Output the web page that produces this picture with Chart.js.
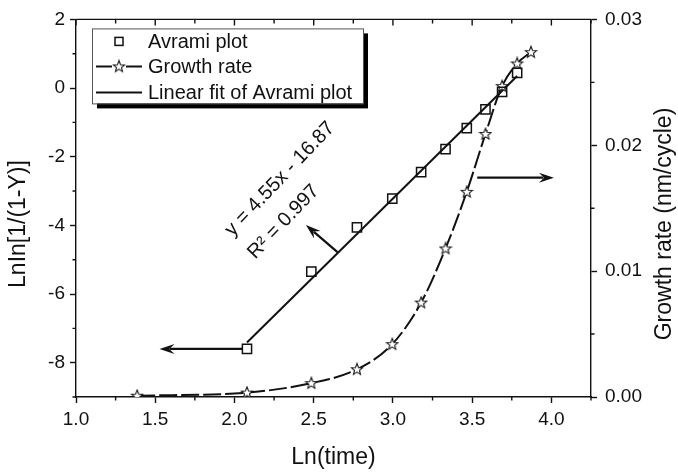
<!DOCTYPE html>
<html>
<head>
<meta charset="utf-8">
<script src="https://cdn.jsdelivr.net/npm/chart.js@4.4.0/dist/chart.umd.min.js"></script>
<style>
    html, body { margin: 0; padding: 0; background: #fff; }
</style>
</head>
<body>
<canvas id="avramiChart" width="678" height="472"></canvas>
<script>
// Avrami plot: LnIn[1/(1-Y)] vs Ln(time)
const avramiX = [2.079, 2.485, 2.773, 2.996, 3.178, 3.332, 3.466, 3.584, 3.689, 3.784];
const avramiY = [-7.60, -5.35, -4.06, -3.22, -2.45, -1.78, -1.17, -0.62, -0.11, 0.44];

// growth rate (nm/cycle) vs Ln(time)
const growthX = [1.386, 2.079, 2.485, 2.773, 2.996, 3.178, 3.332, 3.466, 3.584, 3.689, 3.784, 3.871];
const growthY = [0.0001, 0.00035, 0.0011, 0.0022, 0.0042, 0.0075, 0.0118, 0.0163, 0.0209, 0.0247, 0.0265, 0.0274];

// linear fit end points
const fitX = [2.079, 3.784];
const fitY = [-7.41, 0.35];

const FONT = "'Liberation Sans', Arial, sans-serif";
const INK = '#111';

function isStep(v, step) {
    return Math.abs(v / step - Math.round(v / step)) < 1e-6;
}

function makeStar() {
    const c = document.createElement('canvas');
    c.width = 14; c.height = 14;
    const g = c.getContext('2d');
    g.beginPath();
    for (let i = 0; i < 10; i++) {
        const r = i % 2 === 0 ? 6 : 2.6;
        const a = -Math.PI / 2 + i * Math.PI / 5;
        g.lineTo(7 + r * Math.cos(a), 7.3 + r * Math.sin(a));
    }
    g.closePath();
    g.fillStyle = '#fff';
    g.fill();
    g.strokeStyle = INK;
    g.lineWidth = 1.1;
    g.stroke();
    return c;
}
const starImg = makeStar();

function arrow(ctx, x1, y1, x2, y2) {
    const a = Math.atan2(y2 - y1, x2 - x1);
    const len = 15, hw = 5;
    ctx.beginPath();
    ctx.moveTo(x1, y1);
    ctx.lineTo(x2 - Math.cos(a) * len * 0.7, y2 - Math.sin(a) * len * 0.7);
    ctx.stroke();
    ctx.beginPath();
    ctx.moveTo(x2, y2);
    ctx.lineTo(x2 - Math.cos(a) * len + Math.sin(a) * hw, y2 - Math.sin(a) * len - Math.cos(a) * hw);
    ctx.lineTo(x2 - Math.cos(a) * len * 0.65, y2 - Math.sin(a) * len * 0.65);
    ctx.lineTo(x2 - Math.cos(a) * len - Math.sin(a) * hw, y2 - Math.sin(a) * len + Math.cos(a) * hw);
    ctx.closePath();
    ctx.fill();
}

// arrows and fit text, in data units of x / left y
const arrows = [
    [2.05, -7.60, 1.527, -7.60],
    [2.65, -4.78, 2.451, -3.99],
    [3.532, -2.61, 4.016, -2.61]
];
const fitText = [
    ['y = 4.55x - 16.87', 1.962, -4.225],
    ['R\u00B2 = 0.997', 2.106, -4.888]
];

const extras = {
    id: 'extras',
    afterDraw(chart) {
        const ctx = chart.ctx;
        const { left, right, top, bottom } = chart.chartArea;
        const x = chart.scales.x, y = chart.scales.y, y2 = chart.scales.y2;
        ctx.save();
        ctx.strokeStyle = INK;
        ctx.fillStyle = INK;
        ctx.lineWidth = 1.4;

        // top frame line with inward ticks, plus minor ticks
        ctx.beginPath();
        ctx.moveTo(left, top);
        ctx.lineTo(right, top);
        x.ticks.forEach(t => {
            const px = x.getPixelForValue(t.value);
            const major = isStep(t.value, 0.5);
            ctx.moveTo(px, top);
            ctx.lineTo(px, top + (major ? 6 : 4));
            if (!major) {
                ctx.moveTo(px, bottom);
                ctx.lineTo(px, bottom + 3.5);
            }
        });
        y.ticks.forEach(t => {
            if (!isStep(t.value, 2)) {
                const py = y.getPixelForValue(t.value);
                ctx.moveTo(left, py);
                ctx.lineTo(left - 3.5, py);
            }
        });
        y2.ticks.forEach(t => {
            if (!isStep(t.value, 0.01)) {
                const py = y2.getPixelForValue(t.value);
                ctx.moveTo(right, py);
                ctx.lineTo(right + 3.5, py);
            }
        });
        ctx.stroke();

        // y axis titles, both reading bottom to top
        ctx.font = '23px ' + FONT;
        ctx.textAlign = 'center';
        ctx.textBaseline = 'middle';
        const midY = 224;
        ctx.save();
        ctx.translate(19, midY);
        ctx.rotate(-Math.PI / 2);
        ctx.fillText('LnIn[1/(1-Y)]', 0, 0);
        ctx.restore();
        ctx.save();
        ctx.translate(665, midY);
        ctx.rotate(-Math.PI / 2);
        ctx.fillText('Growth rate (nm/cycle)', 0, 0);
        ctx.restore();

        // arrows
        ctx.lineWidth = 2.2;
        arrows.forEach(a => {
            arrow(ctx, x.getPixelForValue(a[0]), y.getPixelForValue(a[1]),
                x.getPixelForValue(a[2]), y.getPixelForValue(a[3]));
        });

        // fit equation
        ctx.font = '20px ' + FONT;
        ctx.textAlign = 'left';
        fitText.forEach(f => {
            ctx.save();
            ctx.translate(x.getPixelForValue(f[1]), y.getPixelForValue(f[2]));
            ctx.rotate(-0.81);
            ctx.fillText(f[0], 0, 0);
            ctx.restore();
        });

        // legend box with shadow
        const lx = left + 16, ly = top + 9, lw = 271, lh = 75;
        ctx.fillStyle = '#000';
        ctx.fillRect(lx + 5, ly + 5, lw, lh);
        ctx.fillStyle = '#fff';
        ctx.fillRect(lx, ly, lw, lh);
        ctx.lineWidth = 1;
        ctx.strokeStyle = '#555';
        ctx.strokeRect(lx + 0.5, ly + 0.5, lw, lh);

        const ds = chart.data.datasets;
        const rows = [ly + 13, ly + 38, ly + 64];
        const sx = lx + 27;
        ctx.strokeStyle = INK;
        ctx.fillStyle = INK;
        ctx.lineWidth = 2;
        // square
        ctx.save();
        ctx.lineWidth = 1.5;
        ctx.strokeRect(sx - 4, rows[0] - 4, 8, 8);
        ctx.restore();
        // dashed with star
        ctx.beginPath();
        ctx.moveTo(lx + 4, rows[1]); ctx.lineTo(sx - 7, rows[1]);
        ctx.moveTo(sx + 7, rows[1]); ctx.lineTo(lx + 50, rows[1]);
        ctx.stroke();
        ctx.drawImage(starImg, sx - 7, rows[1] - 7);
        // solid
        ctx.beginPath();
        ctx.moveTo(lx + 4, rows[2]); ctx.lineTo(lx + 50, rows[2]);
        ctx.stroke();

        ctx.font = '20px ' + FONT;
        ctx.textBaseline = 'middle';
        ctx.fillStyle = INK;
        rows.forEach((ry, i) => ctx.fillText(ds[i].label, lx + 56, ry + 1));
        ctx.restore();
    }
};

const ctx = document.getElementById('avramiChart').getContext('2d');
const avramiChart = new Chart(ctx, {
    type: 'scatter',
    data: {
        datasets: [{
            label: 'Avrami plot',
            data: avramiX.map((v, i) => ({ x: v, y: avramiY[i] })),
            yAxisID: 'y',
            showLine: false,
            pointStyle: 'rect',
            pointRadius: 6.5,
            pointBackgroundColor: 'rgba(255,255,255,0)',
            pointBorderColor: INK,
            pointBorderWidth: 1.5
        }, {
            label: 'Growth rate',
            data: growthX.map((v, i) => ({ x: v, y: growthY[i] })),
            yAxisID: 'y2',
            showLine: true,
            cubicInterpolationMode: 'monotone',
            borderColor: INK,
            borderWidth: 2,
            borderDash: [18, 4],
            pointStyle: starImg
        }, {
            label: 'Linear fit of Avrami plot',
            data: fitX.map((v, i) => ({ x: v, y: fitY[i] })),
            yAxisID: 'y',
            showLine: true,
            borderColor: INK,
            borderWidth: 2,
            pointRadius: 0
        }]
    },
    options: {
        responsive: false,
        animation: false,
        layout: { padding: { top: 15, left: 0, right: 0, bottom: 0 } },
        plugins: { legend: { display: false }, tooltip: { enabled: false } },
        scales: {
            x: {
                type: 'linear',
                position: 'bottom',
                min: 1, max: 4.25,
                afterFit: s => { s.height = 75; },
                ticks: {
                    stepSize: 0.25, autoSkip: false, maxRotation: 0, padding: 5,
                    color: INK, font: { size: 19, family: FONT },
                    callback: v => isStep(v, 0.5) ? v.toFixed(1) : ''
                },
                grid: {
                    drawOnChartArea: false, tickLength: 6, tickWidth: 1.4,
                    tickColor: c => isStep(c.tick.value, 0.5) ? INK : 'rgba(0,0,0,0)'
                },
                border: { color: INK, width: 1.4 },
                title: {
                    display: true, text: 'Ln(time)', color: INK,
                    font: { size: 23, family: FONT }, padding: { top: 0, bottom: 1 }
                }
            },
            y: {
                type: 'linear',
                position: 'left',
                min: -9, max: 2,
                afterFit: s => { s.width = 76; },
                ticks: {
                    stepSize: 1, autoSkip: false, padding: 5,
                    color: INK, font: { size: 19, family: FONT },
                    callback: v => isStep(v, 2) ? String(v) : ''
                },
                grid: {
                    drawOnChartArea: false, tickLength: 6, tickWidth: 1.4,
                    tickColor: c => isStep(c.tick.value, 2) ? INK : 'rgba(0,0,0,0)'
                },
                border: { color: INK, width: 1.4 }
            },
            y2: {
                type: 'linear',
                position: 'right',
                min: 0, max: 0.03,
                afterFit: s => { s.width = 87; },
                ticks: {
                    stepSize: 0.005, autoSkip: false, padding: 8,
                    color: INK, font: { size: 19, family: FONT },
                    callback: v => isStep(v, 0.01) ? v.toFixed(2) : ''
                },
                grid: {
                    drawOnChartArea: false, tickLength: 6, tickWidth: 1.4,
                    tickColor: c => isStep(c.tick.value, 0.01) ? INK : 'rgba(0,0,0,0)'
                },
                border: { color: INK, width: 1.4 }
            }
        }
    },
    plugins: [extras]
});
</script>
</body>
</html>
